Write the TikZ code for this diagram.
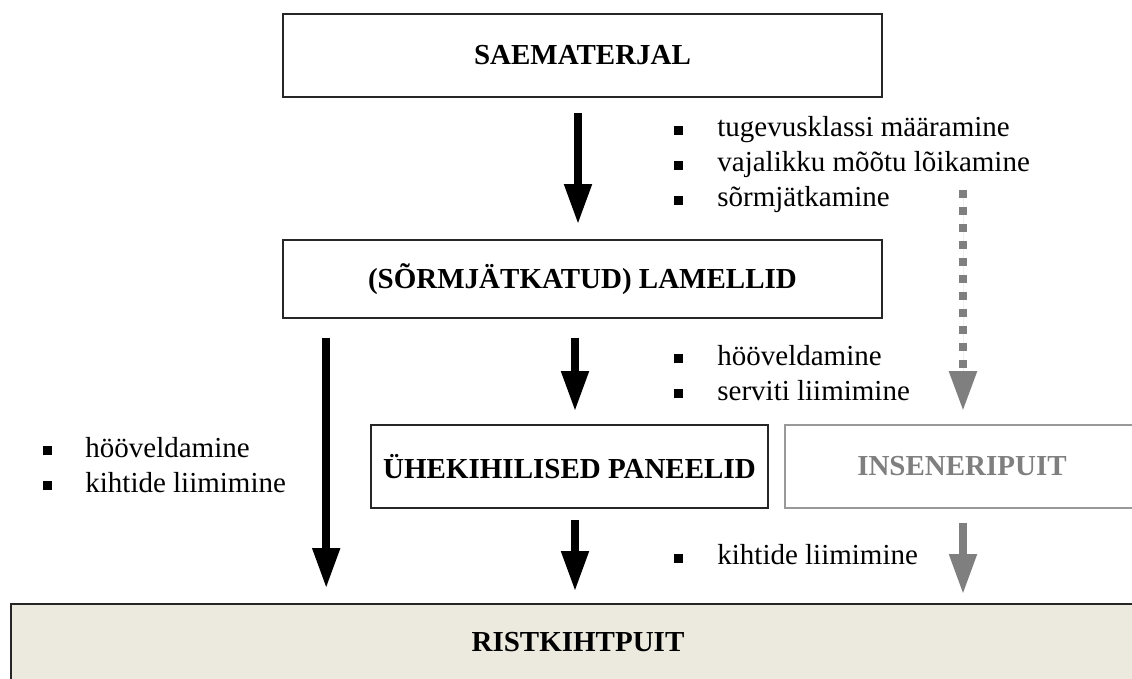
\documentclass[tikz,border=0pt]{standalone}
\usepackage{fontspec}
\setmainfont{Liberation Serif}
\usetikzlibrary{arrows.meta}
\definecolor{beige}{HTML}{ECE9DF}
\definecolor{midgray}{HTML}{7F7F7F}
\newcommand\blt{\makebox[21.5pt][l]{\rule[1pt]{4.2pt}{4.6pt}}}
\begin{document}
\begin{tikzpicture}[x=0.5pt, y=-0.5pt, font=\fontsize{14.5}{17.5}\selectfont,
  box/.style={draw=black!85, line width=0.8pt, minimum width=299.5pt, minimum height=41.5pt, font=\fontsize{14.5}{17}\selectfont\bfseries},
  bigarrow/.style={line width=3.8pt, -{Triangle[length=20pt,width=13pt]}},
  grayarrow/.style={bigarrow, draw=midgray, fill=midgray},
  list/.style={anchor=west, align=left, inner sep=0pt}]
\useasboundingbox (0,0) rectangle (1132,679);

\node[box] (sae) at (582.5,55.5) {SAEMATERJAL};
\node[box, minimum height=39pt] (lam) at (582.5,279) {(SÕRMJÄTKATUD) LAMELLID};
\node[box, minimum width=198.5pt] (pan) at (569.5,466.5) {ÜHEKIHILISED PANEELID};
\node[box, draw=black!40, text=midgray, minimum width=177pt] (ins) at (962,466.5) {INSENERIPUIT};
\node[box, fill=beige, minimum width=567pt, minimum height=38pt] (rist) at (578,642) {RISTKIHTPUIT};

% black arrows
\draw[bigarrow, shorten <=7.5pt, shorten >=7.5pt] ([xshift=-2.25pt]sae.south) -- ([xshift=-2.25pt]lam.north);
\draw[bigarrow, shorten <=9.5pt, shorten >=7.5pt] ([xshift=22pt]lam.south west) -- ([xshift=22pt]lam.south west |- rist.north);
\draw[bigarrow, shorten <=9.5pt, shorten >=6.5pt] ([xshift=2.75pt]pan.north |- lam.south) -- ([xshift=2.75pt]pan.north);
\draw[bigarrow, shorten <=5.5pt, shorten >=6pt] ([xshift=2.75pt]pan.south) -- ([xshift=2.75pt]pan.south |- rist.north);

% gray arrows
\coordinate (dtop) at (963,190);
\draw[grayarrow, line width=4pt, dash pattern=on 4pt off 4.5pt, shorten >=6.5pt] (dtop) -- (dtop |- ins.north);
\draw[grayarrow, shorten <=7pt, shorten >=4.5pt] ([xshift=0.5pt]ins.south) -- ([xshift=0.5pt]ins.south |- rist.north);

% lists
\node[list] (steps1) at (674,165) {\blt tugevusklassi määramine\\\blt vajalikku mõõtu lõikamine\\\blt sõrmjätkamine};
\node[list] (steps2) at (674,373) {\blt hööveldamine\\\blt serviti liimimine};
\node[list] (steps3) at (43,465) {\makebox[21pt][l]{\rule[1pt]{4.2pt}{4.6pt}}hööveldamine\\\makebox[21pt][l]{\rule[1pt]{4.2pt}{4.6pt}}kihtide liimimine};
\node[list] (steps4) at (674,555) {\blt kihtide liimimine};
\end{tikzpicture}
\end{document}
